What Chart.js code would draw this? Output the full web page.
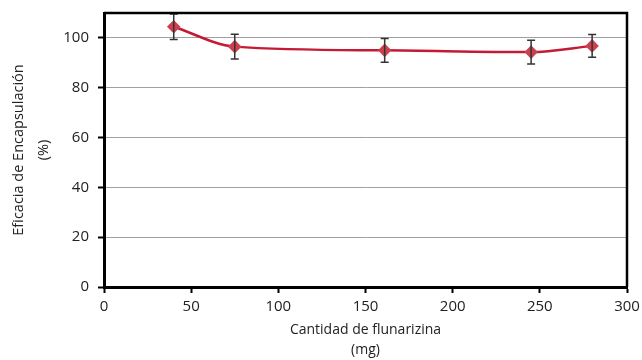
<!DOCTYPE html>
<html>
<head>
<meta charset="utf-8">
<script src="https://cdn.jsdelivr.net/npm/chart.js@4/dist/chart.umd.min.js"></script>
<style>
  body { margin: 0; background: #fff; }
  #wrap { width: 642px; height: 360px; }
</style>
</head>
<body>
<div id="wrap"><canvas id="grafico"></canvas></div>
<script>
// datos
const flunarizina = [40, 75, 161, 245, 280]
const eficacia = [104.5, 96.5, 95, 94.3, 96.8]
const errores = [5.1, 5, 4.8, 4.8, 4.6]
const ticksY = [0, 20, 40, 60, 80, 100]

// barras de error con las escalas del grafico
const barrasError = {
    id: 'barrasError',
    afterDatasetsDraw(chart) {
        const ctx = chart.ctx
        const x = chart.scales.x, y = chart.scales.y
        const area = chart.chartArea
        ctx.save()
        ctx.beginPath()
        ctx.rect(area.left, area.top - 1, area.right - area.left, area.bottom - area.top + 1)
        ctx.clip()
        ctx.strokeStyle = '#333'
        ctx.lineWidth = 1.5
        flunarizina.forEach((v, i) => {
            const px = x.getPixelForValue(v)
            const top = y.getPixelForValue(eficacia[i] + errores[i])
            const bot = y.getPixelForValue(eficacia[i] - errores[i])
            ctx.beginPath()
            ctx.moveTo(px, top); ctx.lineTo(px, bot)
            ctx.moveTo(px - 4, top); ctx.lineTo(px + 4, top)
            ctx.moveTo(px - 4, bot); ctx.lineTo(px + 4, bot)
            ctx.stroke()
        })
        ctx.restore()
    },
    afterDraw(chart) {
        // marco superior y derecho
        const ctx = chart.ctx, a = chart.chartArea
        ctx.save()
        ctx.strokeStyle = '#000'
        ctx.lineWidth = 2.5
        ctx.beginPath()
        ctx.moveTo(a.left, a.top); ctx.lineTo(a.right, a.top); ctx.lineTo(a.right, a.bottom)
        ctx.stroke()
        ctx.restore()
    }
}

const fuenteTicks = { family: 'Open Sans', size: 15 }
const fuenteTitulo = { family: 'Open Sans', size: 14, lineHeight: 1.45 }

new Chart(document.getElementById('grafico'), {
    type: 'line',
    data: {
        datasets: [{
            data: flunarizina.map((v, i) => ({ x: v, y: eficacia[i] })),
            borderColor: '#c41a36',
            borderWidth: 2.5,
            cubicInterpolationMode: 'monotone',
            pointStyle: 'rectRot',
            pointRadius: 5,
            pointBackgroundColor: '#cc4150',
            pointBorderColor: '#cc4150'
        }]
    },
    options: {
        responsive: true,
        maintainAspectRatio: false,
        animation: false,
        layout: { padding: { top: 13, right: 15, left: 0, bottom: 0 } },
        plugins: { legend: { display: false }, tooltip: { enabled: false } },
        scales: {
            x: {
                type: 'linear',
                min: 0, max: 300,
                ticks: { stepSize: 50, color: '#222', font: fuenteTicks, padding: 5 },
                grid: { drawOnChartArea: false, tickLength: 6, tickColor: '#000', tickWidth: 2 },
                border: { color: '#000', width: 3 },
                title: {
                    display: true,
                    text: ['Cantidad de flunarizina', '(mg)'],
                    color: '#222', font: fuenteTitulo, padding: { top: 0, bottom: 0 }
                },
                afterFit: s => { s.height = 73; s.paddingLeft = 0; s.paddingRight = 0 }
            },
            y: {
                min: 0, max: 110,
                afterBuildTicks: s => { s.ticks = ticksY.map(v => ({ value: v })) },
                ticks: { color: '#222', font: fuenteTicks, padding: 9 },
                grid: { color: '#a0a0a0', lineWidth: 1, tickLength: 6, tickColor: '#000', tickWidth: 2 },
                border: { color: '#000', width: 3 },
                title: {
                    display: true,
                    text: ['Eficacia de Encapsulación', '(%)'],
                    color: '#222', font: { family: 'Open Sans', size: 14.5, lineHeight: 1.7 }, padding: { top: 7, bottom: 0 }
                },
                afterFit: s => { s.width = 104; s.paddingTop = 0; s.paddingBottom = 0 }
            }
        }
    },
    plugins: [barrasError]
})
</script>
</body>
</html>
